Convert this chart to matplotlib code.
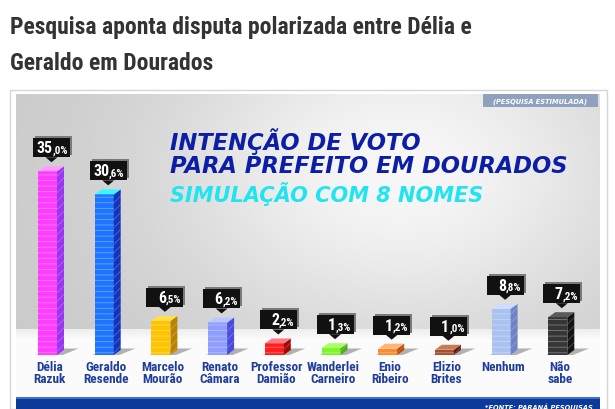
import numpy as np
import matplotlib
matplotlib.use("Agg")
import matplotlib.pyplot as plt
from matplotlib import font_manager
from matplotlib.patches import Polygon, Rectangle

names = ["Délia\nRazuk", "Geraldo\nResende", "Marcelo\nMourão", "Renato\nCâmara",
         "Professor\nDamião", "Wanderlei\nCarneiro", "Enio\nRibeiro", "Elizio\nBrites",
         "Nenhum", "Não\nsabe"]
values = [35.0, 30.6, 6.5, 6.2, 2.2, 1.3, 1.2, 1.0, 8.8, 7.2]
front_colors = ["#ff3cff", "#1c74ff", "#ffc400", "#8f9dff", "#ff1e1e",
                "#7cf52a", "#ff8a2a", "#a4502c", "#a9c2f0", "#363636"]
side_colors = ["#9a36f0", "#1434b8", "#b98300", "#4b4bdc", "#a00808",
               "#4fae1a", "#b94a06", "#5e1a12", "#6f82c6", "#141414"]
top_colors = ["#ff9cff", "#3cf6ff", "#ffe04a", "#b9c6ff", "#ff7a86",
              "#aaff66", "#ffb47a", "#c87a56", "#cfdcff", "#5a5a5a"]

# look for a narrow / condensed face, fall back to DejaVu Sans
fonts = font_manager.fontManager.ttflist
def pick(bold):
    for key in ["LiberationSansNarrow", "RobotoCondensed", "DejaVuSansCondensed", "OpenSansCondensed"]:
        for f in fonts:
            fn = f.fname.replace("-", "").replace("_", "")
            if key in fn and (("Bold" in fn) == bold) and "Italic" not in fn and "Oblique" not in fn:
                return font_manager.FontProperties(fname=f.fname)
    return font_manager.FontProperties(family="DejaVu Sans", weight="bold" if bold else "normal")

head_fp = pick(True)
bold_fp = pick(True)

W, H = 615, 410
fig = plt.figure(figsize=(6.15, 4.1), dpi=100)
fig.patch.set_facecolor("white")

def fx(px):
    return px / W

def fy(py):
    return 1 - py / H

# headline
fig.text(fx(10), fy(34), "Pesquisa aponta disputa polarizada entre Délia e",
         fontproperties=head_fp, fontsize=17, color="#333333", va="baseline")
fig.text(fx(10), fy(70), "Geraldo em Dourados",
         fontproperties=head_fp, fontsize=17, color="#333333", va="baseline")

# image frame
fig.patches.append(Rectangle((fx(10), 0), fx(597), fy(91), transform=fig.transFigure,
                             facecolor="white", edgecolor="#d6d6d6", lw=1, zorder=-5))

# chart axes in pixel-mapped data units
x0_px, step_px = 47.5, 56.7
base_px, unit_px = 356, 5.25
ax = fig.add_axes([fx(16), 0, fx(584), fy(95)])
xl = ((16 - x0_px) / step_px, (600 - x0_px) / step_px)
yl = ((base_px - 410) / unit_px, (base_px - 95) / unit_px)
ax.set_xlim(*xl)
ax.set_ylim(*yl)
ax.axis("off")

# background: gray wall, white floor, blue band
rows, cols = 315, 584
py = 95 + np.arange(rows)[:, None]
px = 16 + np.arange(cols)[None, :]
g = 0.79 + 0.18 * np.exp(-((px - 400) / 240.0) ** 2 - ((py - 170) / 170.0) ** 2)
g = np.broadcast_to(g, (rows, cols)).copy()
fl = (py >= 330) & (py < 398)
g = np.where(fl, 0.985 - 0.05 * np.clip((340 - py) / 10.0, 0, 1), g)
img = np.dstack([g, g, g])
img[np.broadcast_to(py >= 398, (rows, cols))] = [0.05, 0.23, 0.60]
img[np.broadcast_to((py >= 398) & (py < 400), (rows, cols))] = [0.25, 0.45, 0.78]
ax.imshow(img, extent=[xl[0], xl[1], yl[0], yl[1]], aspect="auto", zorder=0, origin="upper")

plt.rcParams["hatch.linewidth"] = 0.6
x = np.arange(len(values))
bw = 19 / step_px
dx = 7 / step_px
dy = 5 / unit_px

# floor shadows
for xi in x:
    xr = xi + bw / 2
    ax.add_patch(Polygon([(xi - bw / 2 - 0.05, 0), (xr + 0.1, 0), (xr + 0.38, dy * 1.3),
                          (xr + dx, dy * 1.3)], closed=True, facecolor="#808080",
                         alpha=0.6, lw=0, zorder=1))

ax.bar(x, values, width=bw, color=front_colors, zorder=3, lw=0)
ax.bar(x, values, width=bw, fill=False, hatch="---", edgecolor=(1, 1, 1, 0.35), lw=0, zorder=4)

for xi, v, sc, tc in zip(x, values, side_colors, top_colors):
    xr = xi + bw / 2
    xlft = xi - bw / 2
    side = [(xr, 0), (xr + dx, dy), (xr + dx, v + dy), (xr, v)]
    ax.add_patch(Polygon(side, closed=True, facecolor=sc, lw=0, zorder=3))
    ax.add_patch(Polygon(side, closed=True, fill=False, hatch="////",
                         edgecolor=(1, 1, 1, 0.25), lw=0, zorder=4))
    ax.add_patch(Polygon([(xlft, v), (xr, v), (xr + dx, v + dy), (xlft + dx, v + dy)],
                         closed=True, facecolor=tc, lw=0, zorder=3))

# value callouts
bwid = 37 / step_px
bh = 19 / unit_px
for xi, v in zip(x, values):
    cx = xi + 4 / step_px
    yb = v + 14 / unit_px
    ax.add_patch(Rectangle((cx - bwid / 2 + 2 / step_px, yb + 2 / unit_px), bwid, bh,
                           facecolor="#7a7a7a", lw=0, zorder=5))
    ax.add_patch(Rectangle((cx - bwid / 2, yb), bwid, bh, facecolor="#111111", lw=0, zorder=6))
    ax.add_patch(Polygon([(cx - 6 / step_px, yb), (cx + 6 / step_px, yb), (cx, yb - 5 / unit_px)],
                         closed=True, facecolor="#111111", lw=0, zorder=6))
    whole, dec = f"{v:.1f}".split(".")
    ax.text(cx + 1 / step_px, yb + 5 / unit_px, whole, ha="right", va="baseline",
            fontproperties=bold_fp, fontsize=11.5, color="white", zorder=7)
    ax.text(cx + 1 / step_px, yb + 5 / unit_px, "," + dec + "%", ha="left", va="baseline",
            fontproperties=bold_fp, fontsize=8, color="white", zorder=7)

# candidate names
for xi, n in zip(x, names):
    ax.text(xi + 2 / step_px, (base_px - 361) / unit_px, n, ha="center", va="top",
            fontproperties=bold_fp, fontsize=9.5, color="#1f3e9c",
            linespacing=0.92, zorder=7)

# title block
title_col = "#0c1ea6"
fig.text(fx(170), fy(150), "INTENÇÃO DE VOTO", fontsize=16.3, fontweight="heavy",
         style="italic", color=title_col, va="baseline")
fig.text(fx(170), fy(173), "PARA PREFEITO EM DOURADOS", fontsize=16.3, fontweight="heavy",
         style="italic", color=title_col, va="baseline")
fig.text(fx(170), fy(202), "SIMULAÇÃO COM 8 NOMES", fontsize=15, fontweight="heavy",
         style="italic", color="#20e4f0", va="baseline")

# tag and source
fig.patches.append(Rectangle((fx(483), fy(108)), fx(115), 13 / H, transform=fig.transFigure,
                             facecolor="#8ea2bf", lw=0, zorder=5))
fig.text(fx(540), fy(101.5), "(PESQUISA ESTIMULADA)", fontsize=4.8, fontweight="bold",
         style="italic", color="white", ha="center", va="center", zorder=6)
fig.text(fx(593), fy(407), "*FONTE: PARANÁ PESQUISAS", fontsize=4.8, fontweight="bold",
         style="italic", color="white", ha="right", va="center", zorder=6)

fig.savefig("out.png", dpi=100)
